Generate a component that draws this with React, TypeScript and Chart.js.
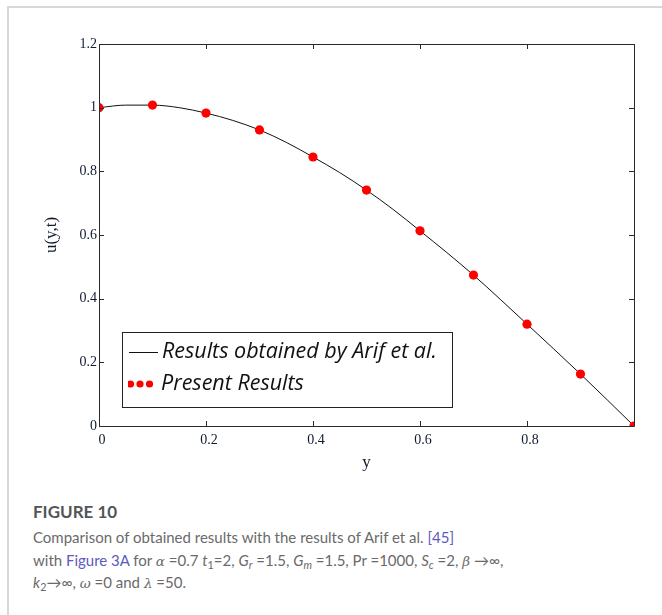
import React, { useEffect, useRef } from 'react';
import { Chart, registerables } from 'chart.js';

Chart.register(...registerables);

// ---- data ----
const presentX = [0, 0.1, 0.2, 0.3, 0.4, 0.5, 0.6, 0.7, 0.8, 0.9, 1.0];
const presentResults = [1.0, 1.008, 0.983, 0.93, 0.845, 0.741, 0.613, 0.474, 0.32, 0.163, 0.0];

const arifX = [0, 0.05, 0.1, 0.15, 0.2, 0.25, 0.3, 0.35, 0.4, 0.45, 0.5, 0.55, 0.6, 0.65, 0.7, 0.75, 0.8, 0.85, 0.9, 0.95, 1.0];
const arifResults = [1.0, 1.008, 1.008, 1.0, 0.983, 0.96, 0.93, 0.891, 0.845, 0.796, 0.741, 0.68, 0.613, 0.545, 0.474, 0.398, 0.32, 0.242, 0.163, 0.082, 0.0];

const xTicks = [0, 0.2, 0.4, 0.6, 0.8, 1.0];
const xLabelledTicks = [0, 0.2, 0.4, 0.6, 0.8];
const yTicks = [0, 0.2, 0.4, 0.6, 0.8, 1.0, 1.2];

const seriesNames = ['Results obtained by Arif et al.', 'Present Results'];
const xTitle = 'y';
const yTitle = 'u(y,t)';

const TICK_COLOR = '#101a2e';
const SERIF = '"Liberation Serif", "Times New Roman", serif';

const fmt = (v: number) => String(Number(v.toFixed(1)));

const framePlugin = {
  id: 'frameAndInnerTicks',
  afterDraw(chart: any) {
    const { ctx, chartArea: a, scales } = chart;
    ctx.save();
    ctx.strokeStyle = '#2a2a2a';
    ctx.lineWidth = 1;
    ctx.beginPath();
    ctx.rect(Math.round(a.left) + 0.5, Math.round(a.top) + 0.5, Math.round(a.right - a.left), Math.round(a.bottom - a.top));
    ctx.stroke();
    const len = 5;
    ctx.beginPath();
    scales.x.ticks.forEach((t: any) => {
      const px = Math.round(scales.x.getPixelForValue(t.value)) + 0.5;
      ctx.moveTo(px, a.bottom);
      ctx.lineTo(px, a.bottom - len);
      ctx.moveTo(px, a.top);
      ctx.lineTo(px, a.top + len);
    });
    scales.y.ticks.forEach((t: any) => {
      const py = Math.round(scales.y.getPixelForValue(t.value)) + 0.5;
      ctx.moveTo(a.left, py);
      ctx.lineTo(a.left + len, py);
      ctx.moveTo(a.right, py);
      ctx.lineTo(a.right - len, py);
    });
    ctx.stroke();
    ctx.restore();
  },
};

const legendPlugin = {
  id: 'boxLegend',
  afterDraw(chart: any) {
    const { ctx, chartArea: a } = chart;
    const bx = Math.round(a.left + 23);
    const by = Math.round(a.top + 288);
    const bw = 330;
    const bh = 75;
    ctx.save();
    ctx.fillStyle = '#ffffff';
    ctx.fillRect(bx, by, bw, bh);
    ctx.strokeStyle = '#222';
    ctx.lineWidth = 1;
    ctx.strokeRect(bx + 0.5, by + 0.5, bw, bh);

    // row 1: line sample
    ctx.beginPath();
    ctx.strokeStyle = '#111';
    ctx.moveTo(bx + 7, by + 20.5);
    ctx.lineTo(bx + 36, by + 20.5);
    ctx.stroke();

    ctx.font = 'italic 21.5px "Open Sans", Lato, sans-serif';
    ctx.fillStyle = '#111';
    ctx.textBaseline = 'middle';
    ctx.textAlign = 'left';
    ctx.fillText(seriesNames[0], bx + 40, by + 20);

    // row 2: red dots
    ctx.save();
    ctx.beginPath();
    ctx.rect(bx + 6, by + 40, 40, 25);
    ctx.clip();
    ctx.fillStyle = '#ff0000';
    [bx + 8.5, bx + 18, bx + 27.5].forEach((cx) => {
      ctx.beginPath();
      ctx.arc(cx, by + 52, 3.6, 0, Math.PI * 2);
      ctx.fill();
    });
    ctx.restore();
    ctx.fillStyle = '#111';
    ctx.fillText(seriesNames[1], bx + 39, by + 52);
    ctx.restore();
  },
};

function ChartCanvas() {
  const ref = useRef<HTMLCanvasElement | null>(null);
  useEffect(() => {
    if (!ref.current) return;
    const chart = new Chart(ref.current, {
      type: 'scatter',
      data: {
        datasets: [
          {
            label: seriesNames[1],
            data: presentX.map((x, i) => ({ x, y: presentResults[i] })),
            pointRadius: 4.6,
            pointBackgroundColor: '#ff0000',
            pointBorderWidth: 0,
            showLine: false,
            clip: 0,
          } as any,
          {
            label: seriesNames[0],
            data: arifX.map((x, i) => ({ x, y: arifResults[i] })),
            showLine: true,
            borderColor: '#111',
            borderWidth: 1,
            pointRadius: 0,
            cubicInterpolationMode: 'monotone',
            clip: 0,
          } as any,
        ],
      },
      options: {
        responsive: false,
        animation: false,
        events: [],
        devicePixelRatio: 1,
        layout: { padding: { left: 0, top: 44, right: 28, bottom: 0 } },
        plugins: { legend: { display: false }, tooltip: { enabled: false } },
        scales: {
          x: {
            type: 'linear',
            min: 0,
            max: 1,
            afterBuildTicks: (s: any) => {
              s.ticks = xTicks.map((v) => ({ value: v }));
            },
            afterFit: (s: any) => {
              s.height = 54;
            },
            ticks: {
              autoSkip: false,
              maxRotation: 0,
              padding: 6,
              labelOffset: 3,
              color: TICK_COLOR,
              font: { family: SERIF, size: 14 },
              callback: (v: any) => (xLabelledTicks.includes(Number(v)) ? fmt(Number(v)) : ''),
            },
            grid: { display: false, drawTicks: false },
            border: { display: false },
            title: {
              display: true,
              text: xTitle,
              color: TICK_COLOR,
              font: { family: SERIF, size: 17 },
              padding: { top: 0, bottom: 7 },
            },
          },
          y: {
            type: 'linear',
            min: 0,
            max: 1.2,
            afterBuildTicks: (s: any) => {
              s.ticks = yTicks.map((v) => ({ value: v }));
            },
            afterFit: (s: any) => {
              s.width = 99;
            },
            ticks: {
              autoSkip: false,
              padding: 2,
              color: TICK_COLOR,
              font: { family: SERIF, size: 14 },
              callback: (v: any) => fmt(Number(v)),
            },
            grid: { display: false, drawTicks: false },
            border: { display: false },
            title: {
              display: true,
              text: yTitle,
              color: TICK_COLOR,
              font: { family: SERIF, size: 17 },
              padding: { top: 41, bottom: 0 },
            },
          },
        },
      },
      plugins: [framePlugin, legendPlugin],
    } as any);
    return () => chart.destroy();
  }, []);
  return (
    <canvas
      ref={ref}
      width={662}
      height={480}
      style={{ position: 'absolute', left: 0, top: 0, width: 662, height: 480 }}
    />
  );
}

const capFont = 'Lato, "Open Sans", sans-serif';
const capColor = '#6a6a6a';
const linkColor = '#5b5bc0';
const mi: React.CSSProperties = { fontStyle: 'italic', fontFamily: '"DejaVu Serif", "Liberation Serif", serif', fontSize: 13.5 };
const it: React.CSSProperties = { fontStyle: 'italic' };
const sub: React.CSSProperties = { fontSize: '0.72em', verticalAlign: '-0.25em', lineHeight: 0 };

export default function App() {
  const lineStyle = (top: number): React.CSSProperties => ({
    position: 'absolute',
    left: 33,
    top,
    whiteSpace: 'nowrap',
    fontFamily: capFont,
    fontSize: 15,
    lineHeight: '24px',
    color: capColor,
  });
  return (
    <div style={{ position: 'absolute', left: 0, top: 0, width: 662, height: 615, overflow: 'hidden', background: '#fff' }}>
      <div
        style={{
          position: 'absolute',
          left: 7,
          top: 6,
          width: 700,
          height: 700,
          borderTop: '2px solid #d8d8d8',
          borderLeft: '2px solid #d8d8d8',
        }}
      />
      <ChartCanvas />
      <div style={{ ...lineStyle(500), fontWeight: 700, fontSize: 17, color: '#555' }}>FIGURE 10</div>
      <div style={lineStyle(525)}>
        Comparison of obtained results with the results of Arif et al. <span style={{ color: linkColor }}>[45]</span>
      </div>
      <div style={lineStyle(548)}>
        with <span style={{ color: linkColor }}>Figure 3A</span> for <span style={mi}>α</span> =0.7{' '}
        <span style={it}>t</span>
        <span style={sub}>1</span>=2, <span style={it}>G</span>
        <span style={{ ...sub, ...it }}>r</span> =1.5, <span style={it}>G</span>
        <span style={{ ...sub, ...it }}>m</span> =1.5, Pr =1000, <span style={it}>S</span>
        <span style={{ ...sub, ...it }}>c</span> =2, <span style={mi}>β</span> →∞,
      </div>
      <div style={lineStyle(570)}>
        <span style={it}>k</span>
        <span style={sub}>2</span>→∞, <span style={mi}>ω</span> =0 and <span style={mi}>λ</span> =50.
      </div>
    </div>
  );
}
